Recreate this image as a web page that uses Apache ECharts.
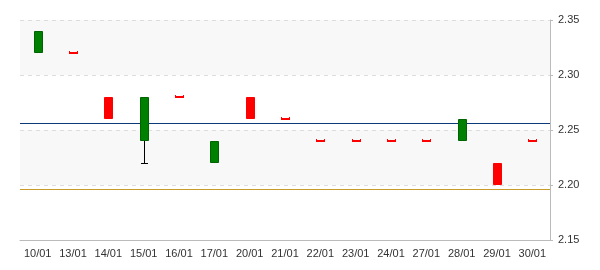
<!DOCTYPE html>
<html><head><meta charset="utf-8">
<script src="https://cdn.jsdelivr.net/npm/echarts@6/dist/echarts.min.js"></script>
<style>html,body{margin:0;padding:0;background:#fff}#c{width:600px;height:270px}</style>
</head><body><div id="c"></div>
<script>
const categories = ['10/01','13/01','14/01','15/01','16/01','17/01','20/01','21/01','22/01','23/01','24/01','27/01','28/01','29/01','30/01'];
const openValues  = [2.34, 2.32, 2.26, 2.28, 2.28, 2.24, 2.26, 2.26, 2.24, 2.24, 2.24, 2.24, 2.26, 2.20, 2.24];
const closeValues = [2.32, 2.32, 2.28, 2.24, 2.28, 2.22, 2.28, 2.26, 2.24, 2.24, 2.24, 2.24, 2.24, 2.22, 2.24];
const lowValues   = [2.32, 2.32, 2.26, 2.22, 2.28, 2.22, 2.26, 2.26, 2.24, 2.24, 2.24, 2.24, 2.24, 2.20, 2.24];
const highValues  = [2.34, 2.32, 2.28, 2.28, 2.28, 2.24, 2.28, 2.26, 2.24, 2.24, 2.24, 2.24, 2.26, 2.22, 2.24];
const refLines = [2.2565, 2.1964];
const yTicks = [2.15, 2.20, 2.25, 2.30, 2.35];

const data = categories.map((c, i) => [i, openValues[i], closeValues[i], lowValues[i], highValues[i]]);

function renderItem(params, api) {
  const i = api.value(0), o = api.value(1), c = api.value(2), l = api.value(3), h = api.value(4);
  const po = api.coord([i, o]), pc = api.coord([i, c]), pl = api.coord([i, l]), ph = api.coord([i, h]);
  const x = Math.round(po[0]);
  const w = 9;
  const up = c >= o;
  const fill = up ? '#ff0000' : '#008000';
  const stroke = up ? '#ff0000' : '#006400';
  let top = Math.round(Math.min(po[1], pc[1])), bot = Math.round(Math.max(po[1], pc[1]));
  const children = [];
  const yl = Math.round(pl[1]), yh = Math.round(ph[1]);
  if (yl > bot) {
    children.push({type:'line', shape:{x1:x+0.5, y1:bot, x2:x+0.5, y2:yl+0.5}, style:{stroke:'#000', lineWidth:1}});
    children.push({type:'line', shape:{x1:x-3, y1:yl+0.5, x2:x+4, y2:yl+0.5}, style:{stroke:'#000', lineWidth:1}});
  }
  if (yh < top) {
    children.push({type:'line', shape:{x1:x+0.5, y1:top, x2:x+0.5, y2:yh+0.5}, style:{stroke:'#000', lineWidth:1}});
    children.push({type:'line', shape:{x1:x-3, y1:yh+0.5, x2:x+4, y2:yh+0.5}, style:{stroke:'#000', lineWidth:1}});
  }
  if (bot - top < 2) {
    top = top - 1; bot = top + 2;
    children.push({type:'rect', shape:{x:x-4, y:top, width:w, height:bot-top}, style:{fill:fill}});
    children.push({type:'rect', shape:{x:x-4, y:top-1, width:1, height:1}, style:{fill:fill}});
    children.push({type:'rect', shape:{x:x+4, y:top-1, width:1, height:1}, style:{fill:fill}});
  } else {
    children.push({type:'rect', shape:{x:x-3.5, y:top+0.5, width:w-1, height:bot-top-1}, style:{fill:fill, stroke:stroke, lineWidth:1}});
  }
  return {type:'group', children};
}

const chart = echarts.init(document.getElementById('c'), null, {renderer:'canvas'});
chart.setOption({
  animation:false,
  backgroundColor:'#fff',
  grid:{left:20, right:50, top:20, bottom:30, containLabel:false},
  xAxis:{
    type:'category', data:categories, boundaryGap:true,
    axisLine:{lineStyle:{color:'#bbbbbb'}},
    axisTick:{alignWithLabel:true, length:4, lineStyle:{color:'#bbbbbb'}},
    axisLabel:{color:'#333', fontFamily:'Liberation Sans, Arial', fontSize:11, margin:8, interval:0},
    splitLine:{show:false}
  },
  yAxis:{
    type:'value', position:'right', min:yTicks[0], max:yTicks[yTicks.length-1], interval:0.05,
    axisLine:{show:true, lineStyle:{color:'#bbbbbb'}},
    axisTick:{show:true, length:3, lineStyle:{color:'#bbbbbb'}},
    axisLabel:{color:'#333', fontFamily:'Liberation Sans, Arial', fontSize:11, margin:8, formatter:v=>v.toFixed(2)},
    splitLine:{show:true, lineStyle:{color:'#dddddd', type:[4,4]}},
    splitArea:{show:true, areaStyle:{color:['#ffffff','#f8f8f8']}}
  },
  series:[{
    type:'custom', renderItem, data, encode:{x:0, y:[1,2,3,4]}, z:3,
    markLine:{
      silent:true, symbol:'none', label:{show:false}, z:2, precision:5,
      data:[
        {yAxis:refLines[0], lineStyle:{color:'#0d3b7a', width:1.2, type:'solid'}},
        {yAxis:refLines[1], lineStyle:{color:'#c89a2a', width:1.2, type:'solid'}}
      ]
    }
  }]
});
</script></body></html>
